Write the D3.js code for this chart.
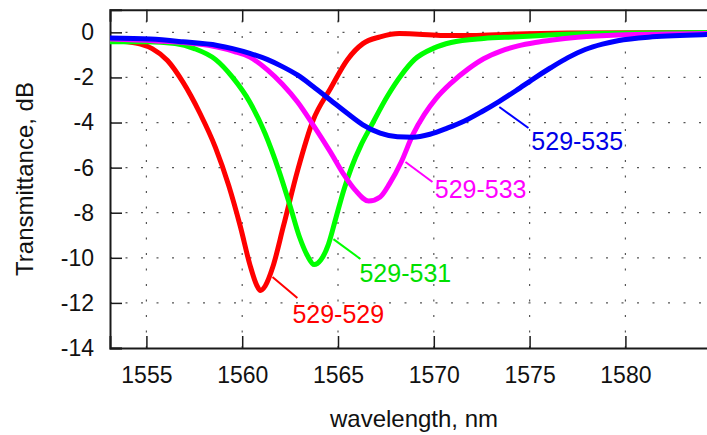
<!DOCTYPE html>
<html>
<head>
<meta charset="utf-8">
<script src="https://cdn.jsdelivr.net/npm/d3@7"></script>
<style>
  html, body { margin: 0; padding: 0; background: #fff; }
  svg { display: block; font-family: "Liberation Sans", Arial, sans-serif; }
</style>
</head>
<body>
<svg id="chart" width="707" height="435"></svg>
<script>
// ---- data (wavelength in nm, transmittance in dB) ----
const xTicks = [1555, 1560, 1565, 1570, 1575, 1580];
const yTicks = [0, -2, -4, -6, -8, -10, -12, -14];

const red529 = [
  [1553.1,-0.37],[1554.0,-0.42],[1554.7,-0.52],[1555.3,-0.72],[1556.1,-1.25],[1556.9,-2.2],
  [1557.8,-3.6],[1558.6,-5.1],[1559.3,-6.8],[1559.9,-8.6],[1560.4,-10.3],[1560.75,-11.2],
  [1560.95,-11.45],[1561.2,-11.25],[1561.6,-10.4],[1562.15,-8.6],[1562.9,-6.1],[1563.7,-3.9],
  [1564.6,-2.5],[1565.5,-1.2],[1566.3,-0.5],[1567.2,-0.2],[1568.2,-0.05],[1569.2,-0.08],
  [1570.5,-0.14],[1572,-0.14],[1574,-0.08],[1577,-0.03],[1586,0]
];
const green531 = [
  [1553.1,-0.42],[1555,-0.42],[1556.5,-0.5],[1557.5,-0.72],[1558.6,-1.2],[1559.5,-2.0],
  [1560.4,-3.1],[1561.2,-4.5],[1561.9,-6.1],[1562.5,-7.7],[1563.0,-9.1],[1563.4,-9.9],
  [1563.75,-10.3],[1564.1,-10.1],[1564.5,-9.4],[1564.9,-8.2],[1565.3,-7.0],[1565.7,-6.0],
  [1566.2,-5.0],[1566.7,-4.2],[1567.6,-2.8],[1568.3,-1.9],[1569.0,-1.2],[1570,-0.7],
  [1570.9,-0.45],[1572.6,-0.27],[1574.4,-0.2],[1576,-0.12],[1578,-0.05],[1586,0]
];
const magenta533 = [
  [1553.1,-0.3],[1555.5,-0.38],[1557.5,-0.5],[1558.7,-0.65],[1559.6,-0.85],[1560.4,-1.1],
  [1561.3,-1.65],[1562.1,-2.3],[1562.9,-3.1],[1563.7,-4.1],[1564.6,-5.3],[1565.3,-6.3],
  [1565.9,-7.0],[1566.6,-7.48],[1567.2,-7.3],[1567.7,-6.7],[1568.3,-5.75],[1568.9,-4.55],
  [1569.5,-3.65],[1570.1,-2.95],[1570.9,-2.25],[1571.8,-1.62],[1572.6,-1.17],[1573.5,-0.83],
  [1574.4,-0.6],[1575.3,-0.45],[1576.2,-0.34],[1577.5,-0.22],[1579.6,-0.12],[1586,-0.04]
];
const blue535 = [
  [1553.1,-0.25],[1555.2,-0.3],[1556.9,-0.42],[1558.7,-0.58],[1559.5,-0.72],[1560.4,-0.93],
  [1561.3,-1.2],[1562.1,-1.52],[1562.9,-1.9],[1563.7,-2.4],[1564.6,-3.0],[1565.5,-3.6],
  [1566.3,-4.1],[1567.2,-4.47],[1568.1,-4.63],[1568.9,-4.65],[1569.8,-4.52],[1570.7,-4.25],
  [1571.6,-3.93],[1572.5,-3.52],[1573.4,-3.07],[1574.3,-2.58],[1575.2,-2.06],[1576.1,-1.57],
  [1577,-1.12],[1577.9,-0.76],[1578.8,-0.52],[1579.6,-0.37],[1581.4,-0.2],[1584.3,-0.1],[1586,-0.08]
];

const seriesNames = ["529-529", "529-531", "529-533", "529-535"];
const seriesValues = [red529, green531, magenta533, blue535];
const seriesColors = ["#ff0000", "#00ff00", "#ff00ff", "#0000ff"];
const labelColors = ["#ff0000", "#00e000", "#ff00ff", "#0000e6"];
// label anchors in data units: leader start, leader end, text start
const leaderFrom = [[1561.58,-10.85],[1564.76,-9.17],[1568.52,-5.75],[1573.42,-3.31]];
const leaderTo   = [[1562.88,-11.78],[1566.17,-10.05],[1569.93,-6.64],[1574.94,-4.24]];
const textAt     = [[1562.62,-12.89],[1566.12,-11.07],[1570.05,-7.35],[1575.09,-5.22]];

(function draw() {
  const svg = d3.select("#chart");
  const pLeft = 110, pTop = 9.8, pBottom = 348;
  const x = d3.scaleLinear().domain([1553.1, 1586]).range([pLeft, pLeft + 32.9 * 19.16]);
  const y = d3.scaleLinear().domain([-14, 1]).range([pBottom, pTop]);
  const xMin = x.range()[0], xMax = x.range()[1];

  svg.append("defs").append("clipPath").attr("id", "clip")
    .append("rect").attr("x", xMin).attr("y", pTop).attr("width", xMax - xMin).attr("height", pBottom - pTop);

  // grid
  const grid = svg.append("g").attr("stroke", "#555").attr("stroke-width", 1.2)
    .attr("stroke-dasharray", "2,13.5");
  grid.selectAll("line.v").data(xTicks).join("line").attr("class", "v")
    .attr("x1", d => x(d)).attr("x2", d => x(d)).attr("y1", pBottom).attr("y2", pTop);
  grid.selectAll("line.h").data(yTicks.filter(d => d > -14)).join("line").attr("class", "h")
    .attr("x1", xMin).attr("x2", 707).attr("y1", d => y(d)).attr("y2", d => y(d));

  // axes (ticks inward)
  const tickLen = 12;
  const xAxis = d3.axisBottom(x).tickValues(xTicks).tickSize(-tickLen).tickPadding(19).tickFormat(d3.format("d"));
  const gx = svg.append("g").attr("transform", `translate(0,${pBottom})`).call(xAxis);
  const xTopAxis = d3.axisTop(x).tickValues(xTicks).tickSize(-tickLen).tickFormat("");
  const gxt = svg.append("g").attr("transform", `translate(0,${pTop})`).call(xTopAxis);
  const yAxis = d3.axisLeft(y).tickValues(yTicks).tickSize(-tickLen).tickPadding(16).tickFormat(d3.format("d"));
  const gy = svg.append("g").attr("transform", `translate(${xMin},0)`).call(yAxis);

  [gx, gxt, gy].forEach(g => {
    g.select(".domain").attr("stroke", "#1a1a1a").attr("stroke-width", 2);
    g.selectAll(".tick line").attr("stroke", "#1a1a1a").attr("stroke-width", 1.5);
    g.selectAll(".tick text").attr("fill", "#111").style("font-size", "23px")
      .style("font-family", "'Liberation Sans', Arial, sans-serif");
  });
  gy.selectAll(".tick text").text(d => String(d));

  // curves
  const line = d3.line().x(d => x(d[0])).y(d => y(d[1])).curve(d3.curveMonotoneX);
  const curves = svg.append("g").attr("clip-path", "url(#clip)");
  curves.selectAll("path").data(seriesValues).join("path")
    .attr("d", line).attr("fill", "none")
    .attr("stroke", (d, i) => seriesColors[i]).attr("stroke-width", 5)
    .attr("stroke-linejoin", "round").attr("stroke-linecap", "round");

  // leaders and labels
  const ann = svg.append("g");
  seriesNames.forEach((name, i) => {
    ann.append("line")
      .attr("x1", x(leaderFrom[i][0])).attr("y1", y(leaderFrom[i][1]))
      .attr("x2", x(leaderTo[i][0])).attr("y2", y(leaderTo[i][1]))
      .attr("stroke", seriesColors[i]).attr("stroke-width", 2);
    ann.append("text")
      .attr("x", x(textAt[i][0])).attr("y", y(textAt[i][1]))
      .attr("fill", labelColors[i]).style("font-size", "25px")
      .text(name);
  });

  // axis titles
  svg.append("text").attr("x", 414).attr("y", 427).attr("text-anchor", "middle")
    .attr("fill", "#111").style("font-size", "24px").text("wavelength, nm");
  svg.append("text").attr("transform", "translate(33,179) rotate(-90)").attr("text-anchor", "middle")
    .attr("fill", "#111").style("font-size", "24px").text("Transmittance, dB");
})();
</script>
</body>
</html>
